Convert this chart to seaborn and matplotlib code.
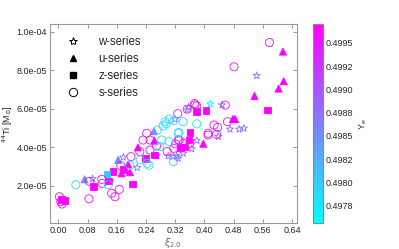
import numpy as np
import pandas as pd
import matplotlib
matplotlib.use("Agg")
import matplotlib.pyplot as plt
from matplotlib.lines import Line2D
from matplotlib.ticker import FormatStrFormatter
import seaborn as sns

# w-series (open stars)
w_xi = [0.543, 0.416, 0.448, 0.357, 0.470, 0.495, 0.508, 0.438, 0.379, 0.365,
        0.319, 0.324, 0.301, 0.178, 0.216, 0.094, 0.353, 0.342, 0.315, 0.328, 0.270]
w_ti = [7.71, 6.24, 6.19, 6.07, 4.93, 4.93, 4.98, 4.55, 4.34, 3.91,
        5.45, 3.54, 3.54, 3.48, 2.94, 2.36, 5.93, 3.68, 3.51, 3.42, 3.55]
w_ye = [0.4988, 0.4977, 0.4988, 0.4987, 0.4988, 0.4988, 0.4988, 0.4988, 0.4988, 0.4988,
        0.4985, 0.4988, 0.4988, 0.4988, 0.4986, 0.4988, 0.4987, 0.4988, 0.4988, 0.4988, 0.4987]

# u-series (filled triangles)
u_xi = [0.615, 0.617, 0.603, 0.537, 0.478, 0.484, 0.397, 0.262, 0.263, 0.218,
        0.164, 0.173, 0.196, 0.191, 0.072]
u_ti = [8.96, 7.42, 7.04, 6.66, 5.46, 5.46, 4.18, 4.83, 4.34, 3.99,
        3.34, 2.64, 2.70, 3.11, 2.33]
u_ye = [0.4997, 0.4997, 0.4997, 0.4997, 0.4997, 0.4997, 0.4997, 0.4986, 0.4997, 0.4997,
        0.4986, 0.4997, 0.4997, 0.4997, 0.4986]

# z-series (filled squares)
z_xi = [0.573, 0.379, 0.404, 0.361, 0.335, 0.358, 0.264, 0.239, 0.150, 0.178,
        0.134, 0.138, 0.203, 0.096, 0.009, 0.018, 0.346]
z_ti = [5.93, 5.84, 5.90, 4.75, 3.97, 4.37, 3.59, 3.42, 2.73, 2.85,
        2.61, 2.24, 2.10, 1.95, 1.29, 1.24, 4.00]
z_ye = [0.4997, 0.4997, 0.4997, 0.4997, 0.4997, 0.4997, 0.4997, 0.4997, 0.4997, 0.4997,
        0.4980, 0.4997, 0.4997, 0.4997, 0.4997, 0.4997, 0.4996]

# s-series (open circles)
s_xi = [0.578, 0.481, 0.457, 0.373, 0.379, 0.353, 0.327, 0.463, 0.436, 0.410,
        0.328, 0.321, 0.316, 0.298, 0.269, 0.251, 0.251, 0.242, 0.223, 0.232,
        0.199, 0.171, 0.119, 0.120, 0.146, 0.155, 0.167, 0.085, 0.084, 0.003,
        0.007, 0.010, 0.426, 0.410, 0.433, 0.331, 0.342, 0.360, 0.374,
        0.342, 0.317, 0.295, 0.287, 0.271, 0.379, 0.330, 0.303, 0.278, 0.243,
        0.248, 0.137, 0.048, 0.292, 0.304, 0.328, 0.283, 0.224, 0.196, 0.315]
s_ti = [9.43, 8.17, 6.18, 6.26, 6.14, 5.97, 5.74, 5.32, 5.03, 4.63,
        4.37, 4.17, 3.94, 3.77, 4.06, 3.85, 4.37, 4.72, 3.77, 4.37,
        3.51, 3.04, 2.33, 2.12, 1.61, 1.43, 1.81, 2.23, 1.32, 1.43,
        1.17, 1.05, 5.15, 4.72, 4.67, 4.37, 4.20, 4.20, 6.19,
        5.32, 5.38, 5.21, 5.10, 4.89, 5.21, 4.77, 4.29, 4.03, 3.16,
        3.06, 2.05, 2.05, 5.32, 5.46, 4.72, 4.37, 3.34, 3.06, 3.25]
s_ye = [0.4997, 0.4996, 0.4996, 0.4996, 0.4996, 0.4996, 0.4996, 0.4996, 0.4996, 0.4996,
        0.4996, 0.4996, 0.4996, 0.4996, 0.4996, 0.4996, 0.4996, 0.4996, 0.4996, 0.4996,
        0.4996, 0.4996, 0.4996, 0.4996, 0.4996, 0.4996, 0.4996, 0.4996, 0.4996, 0.4997,
        0.4997, 0.4997, 0.4996, 0.4996, 0.4996, 0.4996, 0.4996, 0.4996, 0.4996,
        0.4979, 0.4979, 0.4979, 0.4979, 0.4979, 0.4979, 0.4979, 0.4979, 0.4979, 0.4979,
        0.4979, 0.4979, 0.4979, 0.4979, 0.4979, 0.4979, 0.4979, 0.4979, 0.4979, 0.4979]

x_ticks = [0.00, 0.08, 0.16, 0.24, 0.32, 0.40, 0.48, 0.56, 0.64]
y_ticks = [2e-5, 4e-5, 6e-5, 8e-5, 1e-4]
cb_ticks = [0.49775, 0.4980, 0.49825, 0.4985, 0.49875, 0.4990, 0.49925, 0.4995]
cb_labels = ["0.4978", "0.4980", "0.4982", "0.4985", "0.4988", "0.4990", "0.4992", "0.4995"]
ye_min, ye_max = 0.49756, 0.49970

sns.set_theme(style="ticks")
plt.rcParams["font.family"] = ["Liberation Sans", "DejaVu Sans"]
plt.rcParams["mathtext.fontset"] = "dejavusans"

fig = plt.figure(figsize=(3.99, 2.49), dpi=100)
ax = fig.add_axes([0.125, 0.104, 0.619, 0.798])
cax = fig.add_axes([0.784, 0.104, 0.025, 0.798])

series = [
    (w_xi, w_ti, w_ye, "*", 30, False),
    (u_xi, u_ti, u_ye, "^", 26, True),
    (z_xi, z_ti, z_ye, "s", 22, True),
    (s_xi, s_ti, s_ye, "o", 34, False),
]
for xi, ti, ye, mk, size, filled in series:
    df = pd.DataFrame({"xi": xi, "ti": np.array(ti) * 1e-5, "ye": ye})
    sns.scatterplot(data=df, x="xi", y="ti", hue="ye", palette="cool",
                    hue_norm=(ye_min, ye_max), marker=mk, s=size,
                    legend=False, ax=ax, linewidth=0.6)
    coll = ax.collections[-1]
    fc = coll.get_facecolors()
    coll.set_edgecolors(fc)
    if not filled:
        coll.set_facecolors("none")

ax.set_xlim(-0.023, 0.653)
ax.set_ylim(0.06e-5, 1.037e-4)
ax.set_xticks(x_ticks)
ax.set_yticks(y_ticks)
ax.xaxis.set_major_formatter(FormatStrFormatter("%.2f"))
ax.yaxis.set_major_formatter(FormatStrFormatter("%.1e"))
ax.tick_params(direction="in", length=3, width=0.6, color="#888888",
               top=True, right=True, labelsize=6.5, pad=2)
for sp in ax.spines.values():
    sp.set_color("#999999")
    sp.set_linewidth(0.8)
ax.set_xlabel(r"$\xi_{2.0}$", fontsize=7, color="#666666", labelpad=1)
ax.set_ylabel(r"$^{44}$Ti [M$_{\odot}$]", fontsize=6.5, labelpad=1)

handles = [
    Line2D([], [], marker="*", ls="", mfc="none", mec="black", ms=6, mew=0.7),
    Line2D([], [], marker="^", ls="", mfc="black", mec="black", ms=4.5),
    Line2D([], [], marker="s", ls="", mfc="black", mec="black", ms=4),
    Line2D([], [], marker="o", ls="", mfc="none", mec="black", ms=6, mew=0.7),
]
ax.legend(handles, ["w-series", "u-series", "z-series", "s-series"],
          loc="upper left", frameon=False, fontsize=8.3, labelspacing=0.45,
          handletextpad=1.2, borderaxespad=0.6)

sm = plt.cm.ScalarMappable(cmap="cool", norm=plt.Normalize(ye_min, ye_max))
cb = fig.colorbar(sm, cax=cax)
cb.set_ticks(cb_ticks)
cb.set_ticklabels(cb_labels)
cb.ax.tick_params(labelsize=6.5, length=0, pad=2)
cb.outline.set_edgecolor("#888888")
cb.outline.set_linewidth(0.8)
cb.set_label(r"Y$_e$", fontsize=6.5, labelpad=3)

fig.savefig("out.png", dpi=100)
